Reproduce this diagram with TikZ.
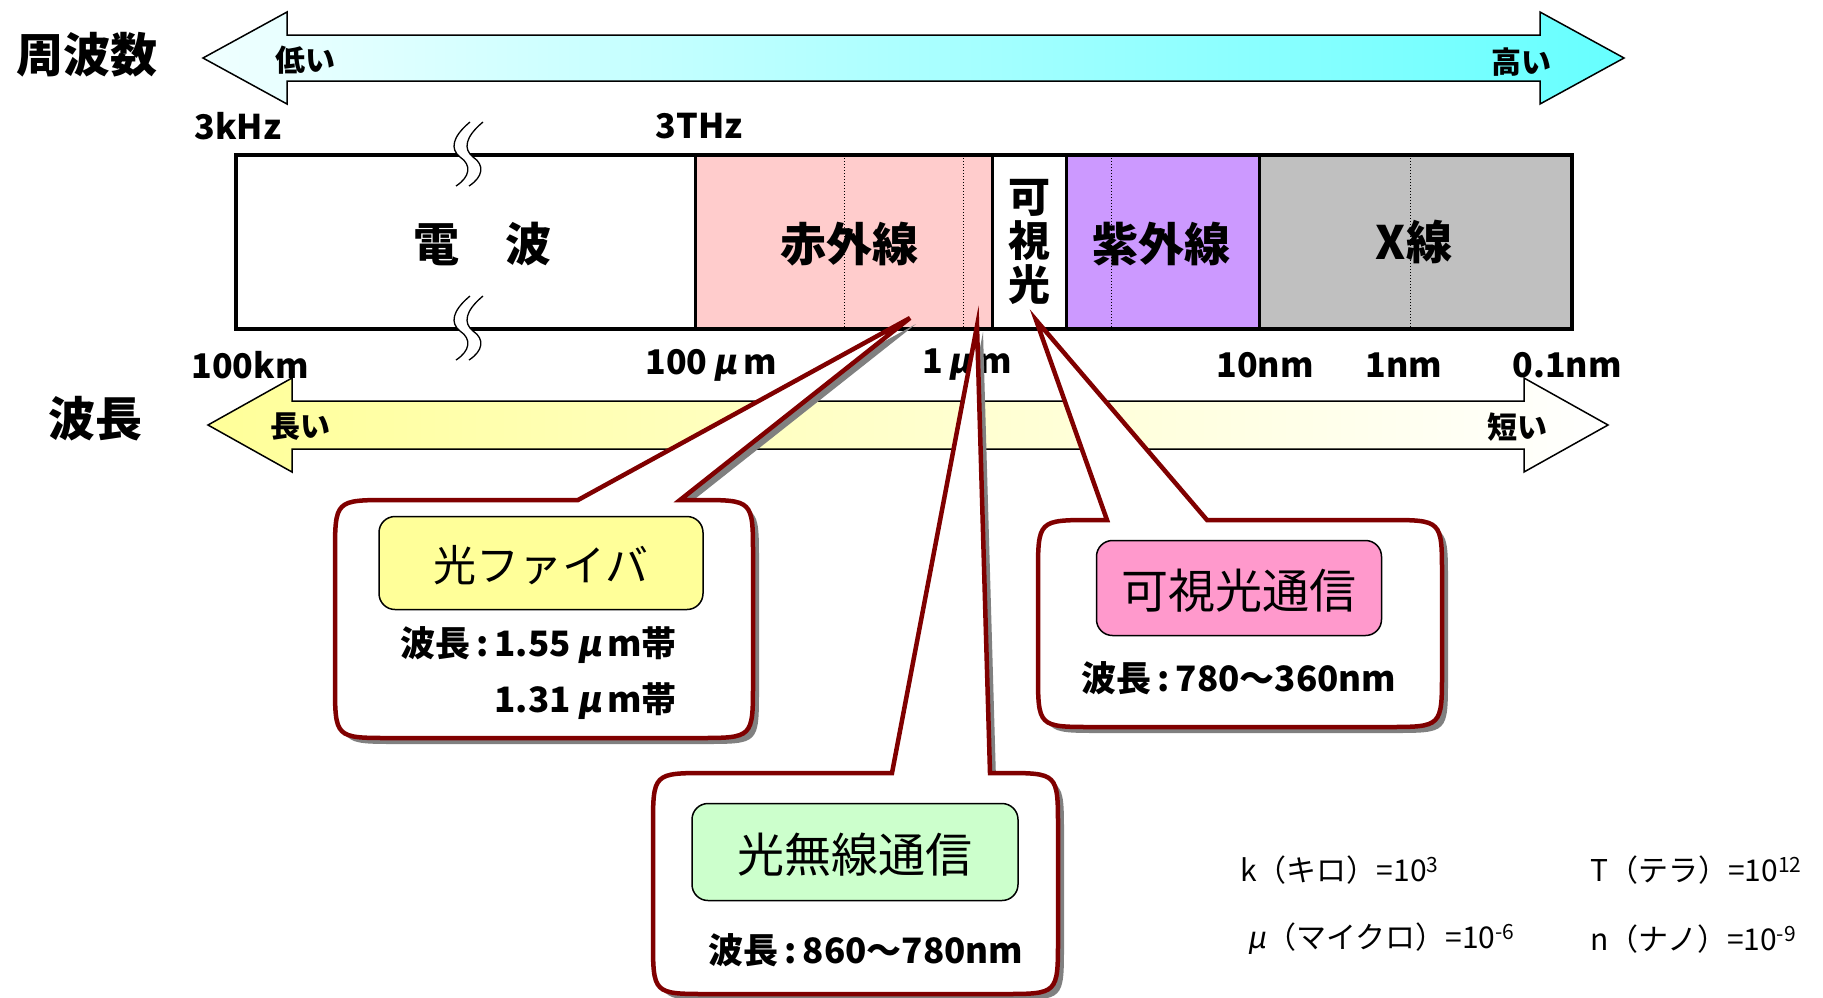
\documentclass[tikz,border=0pt]{standalone}
\usepackage{fontspec}
\newfontfamily\jp{Noto Sans CJK JP}
\newfontfamily\jpmu{Noto Sans CJK JP}[FakeSlant=0.18]
\newcommand\mmu{\hspace{0.18em}{\jpmu μ}\hspace{0.18em}}
\definecolor{irpink}{RGB}{255,204,204}
\definecolor{uvpurple}{RGB}{204,153,255}
\definecolor{xgray}{RGB}{192,192,192}
\definecolor{callred}{RGB}{128,0,0}
\definecolor{shadowgray}{RGB}{128,128,128}
\definecolor{boxyellow}{RGB}{255,255,153}
\definecolor{boxgreen}{RGB}{204,255,204}
\definecolor{boxpink}{RGB}{255,153,204}
\definecolor{cyanend}{RGB}{102,255,255}
\definecolor{cyanstart}{RGB}{240,255,255}
\definecolor{yelstart}{RGB}{255,255,153}
\tikzset{
  bigjp/.style={font=\jp\bfseries\fontsize{47}{50}\selectfont, inner sep=0pt},
  bandjp/.style={font=\jp\bfseries\fontsize{46}{48}\selectfont, inner sep=0pt},
  scalelbl/.style={font=\jp\bfseries\fontsize{34}{38}\selectfont, inner sep=0pt},
  arrowlbl/.style={font=\jp\bfseries\fontsize{30}{34}\selectfont, inner sep=0pt},
  titlejp/.style={font=\jp\fontsize{47}{50}\selectfont, inner sep=0pt},
  wavejp/.style={font=\jp\bfseries\fontsize{35}{38}\selectfont, inner sep=0pt},
  unitjp/.style={font=\jp\fontsize{30}{34}\selectfont, inner sep=0pt, anchor=west},
  innerbox/.style={draw=black, line width=1.5pt, rounded corners=16pt},
  calloutline/.style={draw=callred, line width=4.5pt, fill=white, line join=miter},
  arrowline/.style={draw=black, line width=1.5pt},
  dotline/.style={line width=1pt, dotted},
  breakline/.style={draw=black, line width=1.3pt},
}
% callout path: x1 y1 x2 y2 ax bx tx ty
\newcommand\mycallout[8]{%
  (#5,#2) -- (#7,#8) -- (#6,#2) -- ({#3-55},#2) .. controls (#3,#2) .. (#3,{#2+55})
  -- (#3,{#4-55}) .. controls (#3,#4) .. ({#3-55},#4)
  -- ({#1+55},#4) .. controls (#1,#4) .. (#1,{#4-55})
  -- (#1,{#2+55}) .. controls (#1,#2) .. ({#1+55},#2) -- cycle}
\newcommand\mybreak[2]{%
  \fill[white] (#1+12,#2-33) .. controls (#1-6,#2-18) and (#1-8,#2-6) .. (#1+2,#2+2)
     .. controls (#1+14,#2+10) and (#1+12,#2+22) .. (#1-2,#2+31)
     -- (#1+11,#2+31) .. controls (#1+25,#2+22) and (#1+27,#2+10) .. (#1+15,#2+2)
     .. controls (#1+5,#2-6) and (#1+7,#2-18) .. (#1+25,#2-33) -- cycle;
  \draw[breakline] (#1+12,#2-33) .. controls (#1-6,#2-18) and (#1-8,#2-6) .. (#1+2,#2+2)
     .. controls (#1+14,#2+10) and (#1+12,#2+22) .. (#1-2,#2+31);
  \draw[breakline] (#1+25,#2-33) .. controls (#1+7,#2-18) and (#1+5,#2-6) .. (#1+15,#2+2)
     .. controls (#1+27,#2+10) and (#1+25,#2+22) .. (#1+11,#2+31);
}
\begin{document}
\begin{tikzpicture}[x=1pt,y=-1pt]
\useasboundingbox (0,0) rectangle (1823,997);
\clip (0,0) rectangle (1823,997);
\fill[white] (0,0) rectangle (1823,997);

% frequency arrow
\shadedraw[left color=cyanstart, right color=cyanend, arrowline]
  (203,58) -- (287,12) -- (287,35) -- (1540,35) -- (1540,12) -- (1624,58)
  -- (1540,104) -- (1540,81) -- (287,81) -- (287,104) -- cycle;
\node[bigjp] (freq) at (87,55) {周波数};
\node[arrowlbl] (low) at (305,60) {低い};
\node[arrowlbl] (high) at (1521,62) {高い};

% wavelength arrow
\shadedraw[left color=yelstart, right color=white, arrowline]
  (208,425) -- (292,378) -- (292,401) -- (1524,401) -- (1524,378) -- (1608,425)
  -- (1524,472) -- (1524,449) -- (292,449) -- (292,472) -- cycle;
\node[bigjp] (wl) at (95,419) {波長};
\node[arrowlbl] (long) at (300,427) {長い};
\node[arrowlbl] (short) at (1517,427) {短い};

% spectrum band
\fill[irpink] (695,155) rectangle (992,329);
\fill[white] (992,155) rectangle (1066,329);
\fill[uvpurple] (1066,155) rectangle (1259,329);
\fill[xgray] (1259,155) rectangle (1572,329);
\draw[dotline] (844,155) -- (844,329);
\draw[dotline] (963,155) -- (963,329);
\draw[dotline] (1111,155) -- (1111,329);
\draw[dotline] (1410,155) -- (1410,329);
\draw[line width=3pt] (695,155) -- (695,329);
\draw[line width=3pt] (992,155) -- (992,329);
\draw[line width=3pt] (1066,155) -- (1066,329);
\draw[line width=3pt] (1259,155) -- (1259,329);
\draw[line width=4pt] (236,155) rectangle (1572,329);
\mybreak{458}{155}
\mybreak{458}{329}

\node[bandjp] (radio) at (482,244) {電　波};
\node[bandjp] (ir) at (849,244) {赤外線};
\node[font=\jp\bfseries\fontsize{42}{44}\selectfont, inner sep=0pt, align=center] (vis) at (1029,242) {可\\視\\光};
\node[bandjp] (uv) at (1161,244) {紫外線};
\node[bandjp] (xray) at (1414,242) {X線};

\node[scalelbl] (f1) at (238,126) {3kHz};
\node[scalelbl] (f2) at (699,126) {3THz};
\node[scalelbl] (w1) at (250,365) {100km};
\node[scalelbl] (w2) at (711,365) {100\mmu m};
\node[scalelbl] (w3) at (967,365) {1\mmu m};
\node[scalelbl] (w4) at (1265,365) {10nm};
\node[scalelbl] (w5) at (1404,365) {1nm};
\node[scalelbl] (w6) at (1567,365) {0.1nm};

% callout 1: optical fiber
\fill[shadowgray, shift={(6,6)}] \mycallout{335}{500}{753}{738}{578}{680}{910}{318};
\path[calloutline] \mycallout{335}{500}{753}{738}{578}{680}{910}{318};
\node[innerbox, fill=boxyellow, minimum width=324pt, minimum height=93pt] (fiberbox) at (541,563) {};
\node[titlejp, font=\jp\fontsize{43}{46}\selectfont] (fiber) at (541,565) {光ファイバ};
\node[wavejp, anchor=east] (fw1) at (677,645) {波長\,:\,1.55\mmu m帯};
\node[wavejp, anchor=east] (fw2) at (677,701) {1.31\mmu m帯};

% callout 2: optical wireless
\fill[shadowgray, shift={(6,6)}] \mycallout{653}{773}{1058}{994}{892}{990}{977}{326};
\path[calloutline] \mycallout{653}{773}{1058}{994}{892}{990}{977}{326};
\node[innerbox, fill=boxgreen, minimum width=326pt, minimum height=97pt] (owbox) at (855,852) {};
\node[titlejp] (ow) at (855,855) {光無線通信};
\node[wavejp] (oww) at (866,950) {波長\,:\,860～780nm};

% callout 3: visible light
\fill[shadowgray, shift={(6,6)}] \mycallout{1038}{520}{1442}{727}{1107}{1207}{1036}{320};
\path[calloutline] \mycallout{1038}{520}{1442}{727}{1107}{1207}{1036}{320};
\node[innerbox, fill=boxpink, minimum width=285pt, minimum height=95pt] (vlbox) at (1239,588) {};
\node[titlejp] (vl) at (1239,591) {可視光通信};
\node[wavejp] (vlw) at (1239,678) {波長\,:\,780～360nm};

% unit prefixes
\node[unitjp] (uk) at (1240,870) {k（キロ）=10\textsuperscript{3}};
\node[unitjp] (ut) at (1590,870) {T（テラ）=10\textsuperscript{12}};
\node[unitjp] (umu) at (1247,939) {{\jpmu μ}（マイクロ）=10\textsuperscript{-6}};
\node[unitjp] (un) at (1590,939) {n（ナノ）=10\textsuperscript{-9}};
\end{tikzpicture}
\end{document}
